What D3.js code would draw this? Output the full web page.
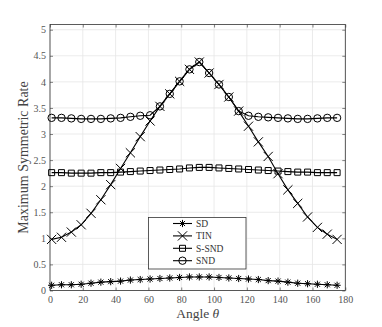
<!DOCTYPE html>
<html>
<head>
<meta charset="utf-8">
<title>Maximum Symmetric Rate vs Angle</title>
<script src="https://d3js.org/d3.v7.min.js"></script>
<style>
body { margin: 0; background: #fff; }
svg { display: block; font-family: "Liberation Serif", "DejaVu Serif", serif; }
.tick text { fill: #555; font-size: 10px; font-family: "Liberation Serif", "DejaVu Serif", serif; }
.axis-label { fill: #444; }
.legend text { fill: #333; font-size: 9.5px; }
</style>
</head>
<body>
<script>
// angle samples (degrees)
let theta = [1, 7, 13, 19, 25, 31, 37, 43, 49, 55, 61, 67, 73, 79, 85, 91, 97, 103, 109, 115, 121, 127, 133, 139, 145, 151, 157, 163, 169, 175];

let sdRate = [0.10, 0.11, 0.11, 0.12, 0.14, 0.16, 0.17, 0.18, 0.20, 0.21, 0.22, 0.23, 0.24, 0.25, 0.26, 0.26, 0.26, 0.25, 0.24, 0.23, 0.22, 0.21, 0.19, 0.18, 0.16, 0.14, 0.13, 0.12, 0.11, 0.10];
let tinRate = [0.98, 1.02, 1.12, 1.26, 1.48, 1.74, 2.03, 2.34, 2.64, 2.95, 3.25, 3.53, 3.77, 4.01, 4.24, 4.38, 4.17, 3.95, 3.71, 3.44, 3.15, 2.85, 2.57, 2.24, 1.93, 1.67, 1.41, 1.21, 1.08, 0.98];
let ssndRate = [2.26, 2.26, 2.25, 2.25, 2.25, 2.26, 2.26, 2.27, 2.28, 2.29, 2.30, 2.31, 2.32, 2.33, 2.35, 2.36, 2.36, 2.35, 2.34, 2.33, 2.32, 2.31, 2.30, 2.29, 2.28, 2.27, 2.27, 2.26, 2.26, 2.26];
let sndRate = [3.31, 3.31, 3.30, 3.29, 3.29, 3.29, 3.30, 3.31, 3.33, 3.35, 3.36, 3.53, 3.77, 4.01, 4.24, 4.38, 4.17, 3.95, 3.71, 3.44, 3.35, 3.33, 3.32, 3.31, 3.30, 3.29, 3.29, 3.30, 3.31, 3.31];

let xTicks = [0, 20, 40, 60, 80, 100, 120, 140, 160, 180];
let yTicks = [0, 0.5, 1, 1.5, 2, 2.5, 3, 3.5, 4, 4.5, 5];

let seriesNames = ['SD', 'TIN', 'S-SND', 'SND'];
let seriesValues = [sdRate, tinRate, ssndRate, sndRate];
let seriesMarkers = ['asterisk', 'cross', 'square', 'circle'];

let W = 382, H = 327;
let pL = 50, pR = 345.3, pT = 24.5, pB = 290.5;

let svg = d3.select('body').append('svg').attr('width', W).attr('height', H);

let x = d3.scaleLinear().domain([0, 180]).range([pL, pR]);
let y = d3.scaleLinear().domain([0, 5.1]).range([pB, pT]);

// grid
svg.append('g').selectAll('line').data(xTicks).enter().append('line')
    .attr('x1', d => x(d)).attr('x2', d => x(d)).attr('y1', pT).attr('y2', pB)
    .attr('stroke', '#e6e6e6').attr('stroke-width', 0.8);
svg.append('g').selectAll('line').data(yTicks).enter().append('line')
    .attr('x1', pL).attr('x2', pR).attr('y1', d => y(d)).attr('y2', d => y(d))
    .attr('stroke', '#e6e6e6').attr('stroke-width', 0.8);

// axes, ticks pointing inside
let xAxis = svg.append('g').attr('transform', `translate(0,${pB})`)
    .call(d3.axisBottom(x).tickValues(xTicks).tickSize(-3).tickPadding(5.5).tickSizeOuter(0));
let xTop = svg.append('g').attr('transform', `translate(0,${pT})`)
    .call(d3.axisTop(x).tickValues(xTicks).tickSize(-3).tickFormat('').tickSizeOuter(0));
let yAxis = svg.append('g').attr('transform', `translate(${pL},0)`)
    .call(d3.axisLeft(y).tickValues(yTicks).tickFormat(d => String(d)).tickSize(-3).tickPadding(4).tickSizeOuter(0));
let yRight = svg.append('g').attr('transform', `translate(${pR},0)`)
    .call(d3.axisRight(y).tickValues(yTicks).tickSize(-3).tickFormat('').tickSizeOuter(0));
[xAxis, xTop, yAxis, yRight].forEach(a => {
    a.attr('font-family', null).attr('font-size', null);
    a.selectAll('.domain').remove();
    a.selectAll('.tick line').attr('stroke', '#333').attr('stroke-width', 0.6);
});

svg.append('rect').attr('x', pL).attr('y', pT).attr('width', pR - pL).attr('height', pB - pT)
    .attr('fill', 'none').attr('stroke', '#333').attr('stroke-width', 0.8);

function markerPath(kind) {
    if (kind === 'asterisk') {
        let r = 3.6, p = '';
        [0, 45, 90, 135].forEach(a => {
            let c = Math.cos(a * Math.PI / 180) * r, s = Math.sin(a * Math.PI / 180) * r;
            p += `M${-c},${-s}L${c},${s}`;
        });
        return p;
    }
    if (kind === 'cross') {
        let r = 4.6;
        return `M${-r},${-r}L${r},${r}M${-r},${r}L${r},${-r}`;
    }
    if (kind === 'square') {
        let r = 3;
        return `M${-r},${-r}H${r}V${r}H${-r}Z`;
    }
    return d3.symbol().type(d3.symbolCircle).size(Math.PI * 3.7 * 3.7)();
}

let line = d3.line().x((d, i) => x(theta[i])).y(d => y(d));

seriesValues.forEach((vals, k) => {
    let g = svg.append('g');
    g.append('path').datum(vals).attr('d', line)
        .attr('fill', 'none').attr('stroke', '#000').attr('stroke-width', 1.1);
    g.selectAll('path.mk').data(vals).enter().append('path').attr('class', 'mk')
        .attr('transform', (d, i) => `translate(${x(theta[i])},${y(d)})`)
        .attr('d', markerPath(seriesMarkers[k]))
        .attr('fill', 'none').attr('stroke', '#000').attr('stroke-width', 1);
});

// legend
let legend = svg.append('g').attr('class', 'legend');
legend.append('rect').attr('x', 148.5).attr('y', 217.5).attr('width', 97.5).attr('height', 51.5)
    .attr('fill', '#fff').attr('stroke', '#333').attr('stroke-width', 0.8);
seriesNames.forEach((name, k) => {
    let ly = 223.5 + k * 12.4;
    legend.append('line').attr('x1', 173).attr('x2', 192).attr('y1', ly).attr('y2', ly)
        .attr('stroke', '#000').attr('stroke-width', 1.1);
    legend.append('path').attr('transform', `translate(182.5,${ly})`).attr('d', markerPath(seriesMarkers[k]))
        .attr('fill', 'none').attr('stroke', '#000').attr('stroke-width', 1);
    legend.append('text').attr('x', 196).attr('y', ly).attr('dy', '0.35em').text(name);
});

// axis labels
svg.append('text').attr('class', 'axis-label').attr('x', (pL + pR) / 2).attr('y', 318)
    .attr('font-size', 13.5).attr('text-anchor', 'middle')
    .html('Angle <tspan font-style="italic">θ</tspan>');
svg.append('text').attr('class', 'axis-label')
    .attr('transform', `translate(23,${(pT + pB) / 2}) rotate(-90)`)
    .attr('font-size', 14).attr('text-anchor', 'middle').attr('dy', '0.35em').text('Maximum Symmetric Rate');
</script>
</body>
</html>
